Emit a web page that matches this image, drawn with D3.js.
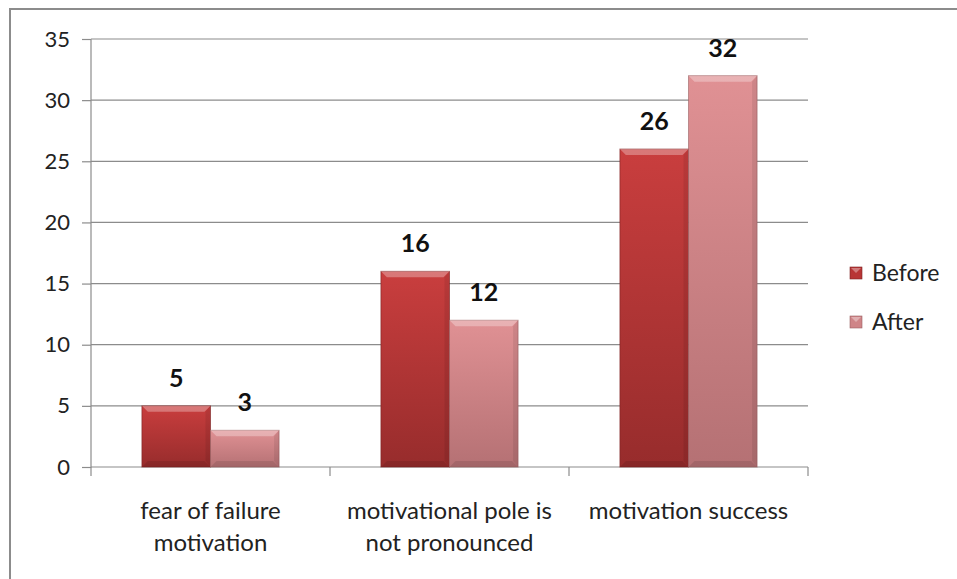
<!DOCTYPE html>
<html>
<head>
<meta charset="utf-8">
<script src="https://cdn.jsdelivr.net/npm/d3@7"></script>
<style>
  body { margin: 0; background: #fff; }
  svg { display: block; font-family: Lato, "Open Sans", sans-serif; }
</style>
</head>
<body>
<div id="chart"></div>
<script>
// data
var categories = [["fear of failure", "motivation"], ["motivational pole is", "not pronounced"], ["motivation success"]];
var before = [5, 16, 26];
var after = [3, 12, 32];
var seriesNames = ["Before", "After"];
var yTicks = [0, 5, 10, 15, 20, 25, 30, 35];

var W = 957, H = 579;
var margin = {top: 39, right: 149, bottom: 112, left: 91},
  width = W - margin.left - margin.right,
  height = H - margin.top - margin.bottom;

var svg = d3.select("#chart").append("svg")
  .attr("width", W).attr("height", H);

// outer chart border
svg.append("rect")
  .attr("x", 10).attr("y", 9)
  .attr("width", W + 20).attr("height", H + 20)
  .attr("fill", "none").attr("stroke", "#8c8c8c").attr("stroke-width", 2);

var defs = svg.append("defs");
function grad(id, top, bottom) {
  var g = defs.append("linearGradient").attr("id", id)
    .attr("x1", 0).attr("y1", 0).attr("x2", 0).attr("y2", 1);
  g.append("stop").attr("offset", "0%").attr("stop-color", top);
  g.append("stop").attr("offset", "100%").attr("stop-color", bottom);
}
grad("gBefore", "#c93e3e", "#972c2c");
grad("gAfter", "#e09194", "#b57174");
var fills = ["url(#gBefore)", "url(#gAfter)"];
var legendFills = ["#b83535", "#cf8588"];

var g = svg.append("g")
  .attr("transform", "translate(" + margin.left + "," + margin.top + ")");

var x = d3.scaleBand().domain(d3.range(categories.length)).range([0, width]);
var inner = d3.scaleBand().domain([0, 1]).range([0, x.bandwidth() * 0.574]);
var y = d3.scaleLinear().domain([0, 35]).range([height, 0]);

// gridlines
g.selectAll(".grid").data(yTicks.slice(1)).enter().append("line")
  .attr("x1", 0).attr("x2", width)
  .attr("y1", function(d) { return y(d); }).attr("y2", function(d) { return y(d); })
  .attr("stroke", "#8c8c8c").attr("stroke-width", 1.2);

// y axis
var yAxis = g.append("g").call(d3.axisLeft(y).tickValues(yTicks).tickSize(9).tickPadding(12));
yAxis.select(".domain").attr("stroke", "#8c8c8c").attr("stroke-width", 1.2).attr("d", "M0," + (height + 0.5) + "V0");
yAxis.selectAll(".tick line").attr("stroke", "#8c8c8c").attr("stroke-width", 1.2);
yAxis.selectAll("text").style("font-size", "22px").attr("fill", "#222").style("font-family", "Lato, sans-serif");

// x axis
var xAxis = g.append("g").attr("transform", "translate(0," + height + ")");
xAxis.append("line").attr("x1", 0).attr("x2", width).attr("stroke", "#8c8c8c").attr("stroke-width", 1.2);
xAxis.selectAll(".xt").data(d3.range(categories.length + 1)).enter().append("line")
  .attr("x1", function(d) { return d * x.step(); }).attr("x2", function(d) { return d * x.step(); })
  .attr("y1", 0).attr("y2", 9).attr("stroke", "#8c8c8c").attr("stroke-width", 1.2);
var xl = xAxis.selectAll(".xl").data(categories).enter().append("text")
  .attr("x", function(d, i) { return x(i) + x.bandwidth() / 2; })
  .attr("text-anchor", "middle").attr("fill", "#222").style("font-size", "24px");
xl.selectAll("tspan").data(function(d) { return d; }).enter().append("tspan")
  .attr("x", function() { return d3.select(this.parentNode).attr("x"); })
  .attr("y", function(d, j) { return 52 + j * 32; })
  .text(function(d) { return d; });

// bars
var series = [before, after];
series.forEach(function(vals, s) {
  var bars = g.selectAll(".bar" + s).data(vals).enter().append("g");
  bars.each(function(v, i) {
    var bx = x(i) + (x.bandwidth() - inner.range()[1]) / 2 + inner(s);
    var bw = inner.bandwidth();
    var by = y(v), bh = height - y(v);
    var b = d3.select(this);
    b.append("rect").attr("x", bx).attr("y", by).attr("width", bw).attr("height", bh)
      .attr("fill", fills[s]).attr("stroke", s ? "#9a6062" : "#7d2222").attr("stroke-width", 1).attr("stroke-opacity", 0.6);
    // bevel: light top, dark bottom
    b.append("path")
      .attr("d", "M" + bx + "," + by + "h" + bw + "l-6,6h" + (-(bw - 12)) + "z")
      .attr("fill", "#fff").attr("opacity", 0.3);
    b.append("path")
      .attr("d", "M" + bx + "," + (by + bh) + "h" + bw + "l-6,-6h" + (-(bw - 12)) + "z")
      .attr("fill", "#000").attr("opacity", 0.1);
    b.append("path")
      .attr("d", "M" + (bx + bw) + "," + by + "v" + bh + "l-5,-6v" + (-(bh - 12)) + "z")
      .attr("fill", "#000").attr("opacity", 0.08);
    // value label
    g.append("text").attr("x", bx + bw / 2).attr("y", by - 19)
      .attr("text-anchor", "middle").style("font-size", "25px").style("font-weight", "bold")
      .attr("fill", "#111").text(v);
  });
});

// legend
var legend = svg.append("g").attr("transform", "translate(850,267)");
seriesNames.forEach(function(name, i) {
  var row = legend.append("g").attr("transform", "translate(0," + (i * 49) + ")");
  row.append("rect").attr("width", 12).attr("height", 12).attr("fill", legendFills[i])
    .attr("stroke", i ? "#9a6062" : "#7d2222").attr("stroke-width", 0.6);
  row.append("path").attr("d", "M1,1h10l-5,5z").attr("fill", "#fff").attr("opacity", 0.35);
  row.append("text").attr("x", 22).attr("y", 14).style("font-size", "23px").attr("fill", "#222").text(name);
});
</script>
</body>
</html>
